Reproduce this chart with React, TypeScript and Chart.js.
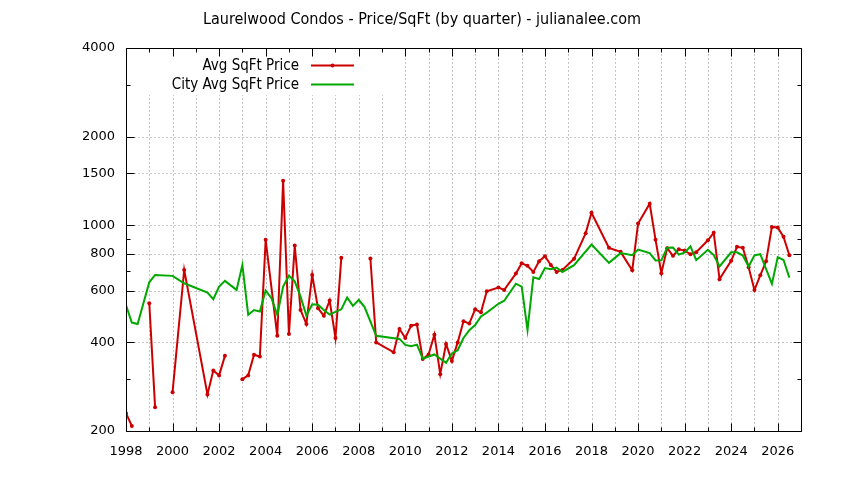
import React, { useEffect, useRef } from 'react';
import { Chart, registerables } from 'chart.js';

Chart.register(...registerables);

const TITLE = 'Laurelwood Condos - Price/SqFt (by quarter) - julianalee.com';
const LEGEND_LABELS = ['Avg SqFt Price', 'City Avg SqFt Price'];

const X_TICKS = [1998, 1999, 2000, 2001, 2002, 2003, 2004, 2005, 2006, 2007, 2008, 2009, 2010, 2011, 2012, 2013, 2014, 2015, 2016, 2017, 2018, 2019, 2020, 2021, 2022, 2023, 2024, 2025, 2026, 2027];
const X_LABELS = [1998, 2000, 2002, 2004, 2006, 2008, 2010, 2012, 2014, 2016, 2018, 2020, 2022, 2024, 2026];
const Y_TICKS = [200, 300, 400, 600, 700, 800, 900, 1000, 1500, 2000, 3000, 4000];
const Y_LABELS = [200, 400, 600, 800, 1000, 1500, 2000, 4000];

const AVG_QUARTERS = [1998.0, 1998.25, 1998.5, 1999.0, 1999.25, 1999.5, 2000.0, 2000.5, 2001.5, 2001.75, 2002.0, 2002.25, 2002.5, 2003.0, 2003.25, 2003.5, 2003.75, 2004.0, 2004.5, 2004.75, 2005.0, 2005.25, 2005.5, 2005.75, 2006.0, 2006.25, 2006.5, 2006.75, 2007.0, 2007.25, 2007.5, 2008.5, 2008.75, 2009.5, 2009.75, 2010.0, 2010.25, 2010.5, 2010.75, 2011.0, 2011.25, 2011.5, 2011.75, 2012.0, 2012.25, 2012.5, 2012.75, 2013.0, 2013.25, 2013.5, 2014.0, 2014.25, 2014.75, 2015.0, 2015.25, 2015.5, 2015.75, 2016.0, 2016.25, 2016.5, 2016.75, 2017.25, 2017.75, 2018.0, 2018.75, 2019.25, 2019.75, 2020.0, 2020.5, 2020.75, 2021.0, 2021.25, 2021.5, 2021.75, 2022.0, 2022.25, 2022.5, 2023.0, 2023.25, 2023.5, 2024.0, 2024.25, 2024.5, 2024.75, 2025.0, 2025.25, 2025.5, 2025.75, 2026.0, 2026.25, 2026.5];
const AVG_PRICE = [230, 208, null, 543, 241, null, 271, 705, 266, 321, 309, 360, null, 300, 309, 363, 358, 892, 421, 1415, 427, 853, 515, 462, 678, 522, 493, 555, 414, 775, null, 771, 400, 370, 444, 414, 456, 460, 351, 364, 425, 312, 395, 346, 400, 472, 464, 518, 506, 597, 614, 603, 685, 743, 728, 694, 755, 785, 733, 694, 705, 769, 940, 1102, 838, 812, 703, 1013, 1183, 893, 687, 836, 787, 828, 820, 797, 810, 889, 943, 656, 757, 845, 838, 720, 602, 676, 754, 987, 982, 913, 791];

const CITY_QUARTERS = [1998.0, 1998.25, 1998.5, 1999.0, 1999.25, 2000.0, 2000.5, 2001.5, 2001.75, 2002.0, 2002.25, 2002.75, 2003.0, 2003.25, 2003.5, 2003.75, 2004.0, 2004.25, 2004.5, 2004.75, 2005.0, 2005.25, 2005.5, 2005.75, 2006.0, 2006.25, 2006.5, 2006.75, 2007.0, 2007.25, 2007.5, 2007.75, 2008.0, 2008.25, 2008.75, 2009.75, 2010.0, 2010.25, 2010.5, 2010.75, 2011.25, 2011.75, 2012.0, 2012.25, 2012.5, 2012.75, 2013.0, 2013.25, 2013.5, 2014.0, 2014.25, 2014.75, 2015.0, 2015.25, 2015.5, 2015.75, 2016.0, 2016.25, 2016.5, 2016.75, 2017.25, 2018.0, 2018.75, 2019.25, 2019.75, 2020.0, 2020.5, 2020.75, 2021.0, 2021.25, 2021.5, 2021.75, 2022.0, 2022.25, 2022.5, 2023.0, 2023.25, 2023.5, 2024.0, 2024.25, 2024.5, 2024.75, 2025.0, 2025.25, 2025.75, 2026.0, 2026.25, 2026.5];
const CITY_PRICE = [535, 467, 462, 640, 678, 673, 635, 590, 561, 619, 647, 603, 733, 496, 515, 509, 600, 565, 496, 619, 674, 645, 572, 493, 539, 537, 515, 497, 508, 518, 568, 532, 558, 527, 421, 411, 392, 388, 393, 352, 364, 341, 367, 376, 414, 440, 458, 490, 505, 541, 554, 633, 619, 441, 666, 657, 715, 709, 718, 694, 732, 860, 745, 804, 791, 827, 804, 759, 760, 839, 840, 795, 807, 848, 761, 825, 792, 725, 809, 809, 789, 724, 790, 797, 632, 779, 762, 664];

const RED = '#cc0000';
const GREEN = '#00a800';
const GRID = '#8c8c8c';
const TICK_FONT = 'DejaVu Sans';
const TEXT_FONT = 'DejaVu Sans Condensed';

function framePx(chart: any) {
  const xs = chart.scales.x;
  const ys = chart.scales.y;
  return {
    xs,
    ys,
    l: Math.round(xs.getPixelForValue(X_TICKS[0])) + 0.5,
    r: Math.round(xs.getPixelForValue(X_TICKS[X_TICKS.length - 1])) + 0.5,
    b: Math.round(ys.getPixelForValue(Y_TICKS[0])) + 0.5,
    t: Math.round(ys.getPixelForValue(Y_TICKS[Y_TICKS.length - 1])) + 0.5,
  };
}

const KEY_BOX = { x0: 128, x1: 392, y0: 50, y1: 95 };

const gnuPlugin = {
  id: 'gnuFrame',
  beforeDatasetsDraw(chart: any) {
    const { ctx } = chart;
    const { xs, ys, l, r, b, t } = framePx(chart);
    ctx.save();
    ctx.strokeStyle = GRID;
    ctx.lineWidth = 1;
    ctx.setLineDash([1, 3]);
    ctx.beginPath();
    X_TICKS.slice(1, -1).forEach((v) => {
      const px = Math.round(xs.getPixelForValue(v)) + 0.5;
      const top = px < KEY_BOX.x1 ? KEY_BOX.y1 : t;
      ctx.moveTo(px, b);
      ctx.lineTo(px, top);
    });
    Y_LABELS.slice(1, -1).forEach((v) => {
      const py = Math.round(ys.getPixelForValue(v)) + 0.5;
      ctx.moveTo(l, py);
      ctx.lineTo(r, py);
    });
    ctx.stroke();
    ctx.restore();
  },
  afterDraw(chart: any) {
    const { ctx } = chart;
    const { xs, ys, l, r, b, t } = framePx(chart);
    ctx.save();
    ctx.strokeStyle = '#000';
    ctx.lineWidth = 1;
    ctx.setLineDash([]);
    ctx.beginPath();
    X_TICKS.forEach((v) => {
      const px = Math.round(xs.getPixelForValue(v)) + 0.5;
      const len = X_LABELS.includes(v) ? 8 : 4;
      ctx.moveTo(px, b); ctx.lineTo(px, b - len);
      ctx.moveTo(px, t); ctx.lineTo(px, t + len);
    });
    Y_TICKS.forEach((v) => {
      const py = Math.round(ys.getPixelForValue(v)) + 0.5;
      const len = Y_LABELS.includes(v) ? 8 : 4;
      ctx.moveTo(l, py); ctx.lineTo(l + len, py);
      ctx.moveTo(r, py); ctx.lineTo(r - len, py);
    });
    ctx.stroke();
    ctx.strokeRect(l, t, r - l, b - t);

    // legend (gnuplot style: text right-aligned, sample to the right)
    const datasets = chart.data.datasets;
    const textRight = 299;
    const sx0 = 311;
    const sx1 = 354;
    const rowY = [65.5, 84.5];
    ctx.font = `15px "${TEXT_FONT}"`;
    ctx.textAlign = 'right';
    ctx.textBaseline = 'middle';
    LEGEND_LABELS.forEach((label, i) => {
      const y = rowY[i];
      ctx.fillStyle = '#000';
      ctx.fillText(label, textRight, y + 1);
      const ds = datasets[i];
      ctx.strokeStyle = ds.borderColor;
      ctx.lineWidth = ds.borderWidth;
      ctx.beginPath();
      ctx.moveTo(sx0, y);
      ctx.lineTo(sx1, y);
      ctx.stroke();
      if (ds.pointRadius > 0) {
        ctx.fillStyle = ds.borderColor;
        ctx.beginPath();
        ctx.arc((sx0 + sx1) / 2, y, ds.pointRadius, 0, Math.PI * 2);
        ctx.fill();
      }
    });
    ctx.restore();
  },
};

export default function App() {
  const canvasRef = useRef<HTMLCanvasElement | null>(null);

  useEffect(() => {
    document.body.style.margin = '0';
    const canvas = canvasRef.current;
    if (!canvas) return;
    const chart = new Chart(canvas, {
      type: 'line',
      data: {
        datasets: [
          {
            label: LEGEND_LABELS[0],
            data: AVG_QUARTERS.map((q, i) => ({ x: q, y: AVG_PRICE[i] })),
            borderColor: RED,
            backgroundColor: RED,
            borderWidth: 2,
            pointRadius: 2,
            pointHoverRadius: 2,
            pointBorderWidth: 0,
            pointBackgroundColor: RED,
            tension: 0,
            spanGaps: false,
            order: 2,
            yAxisID: 'y',
          },
          {
            label: LEGEND_LABELS[1],
            data: CITY_QUARTERS.map((q, i) => ({ x: q, y: CITY_PRICE[i] })),
            borderColor: GREEN,
            backgroundColor: GREEN,
            borderWidth: 2,
            pointRadius: 0,
            pointHoverRadius: 0,
            tension: 0,
            spanGaps: false,
            order: 1,
            yAxisID: 'y',
          },
        ] as any,
      },
      options: {
        animation: false,
        responsive: false,
        devicePixelRatio: 1,
        layout: { padding: 0 },
        plugins: {
          legend: { display: false },
          tooltip: { enabled: false },
          title: {
            display: true,
            text: TITLE,
            color: '#000',
            font: { family: TEXT_FONT, size: 16, weight: 'normal', lineHeight: 1.2 },
            padding: { top: 10, bottom: 18.8 },
          },
        },
        scales: {
          x: {
            type: 'linear',
            min: X_TICKS[0],
            max: X_TICKS[X_TICKS.length - 1],
            afterBuildTicks: (scale: any) => {
              scale.ticks = X_TICKS.map((v) => ({ value: v }));
            },
            afterFit: (scale: any) => {
              scale.height = 49;
            },
            ticks: {
              autoSkip: false,
              maxRotation: 0,
              minRotation: 0,
              padding: 13,
              color: '#000',
              font: { family: TICK_FONT, size: 13 },
              callback: (v: any) => (X_LABELS.includes(Number(v)) ? String(v) : ''),
            },
            grid: { display: false, drawTicks: false },
            border: { display: false },
          },
          y: {
            type: 'logarithmic',
            position: 'left',
            min: Y_TICKS[0],
            max: Y_TICKS[Y_TICKS.length - 1],
            afterBuildTicks: (scale: any) => {
              scale.ticks = Y_TICKS.map((v) => ({ value: v }));
            },
            afterFit: (scale: any) => {
              scale.width = 126;
            },
            ticks: {
              autoSkip: false,
              padding: 11,
              color: '#000',
              font: { family: TICK_FONT, size: 13 },
              callback: (v: any) => (Y_LABELS.includes(Number(v)) ? String(v) : ''),
            },
            grid: { display: false, drawTicks: false },
            border: { display: false },
          },
          yRight: {
            type: 'linear',
            position: 'right',
            display: true,
            afterFit: (scale: any) => {
              scale.width = 43;
            },
            ticks: { display: false },
            grid: { display: false, drawTicks: false },
            border: { display: false },
          },
        },
      },
      plugins: [gnuPlugin],
    });
    return () => chart.destroy();
  }, []);

  return (
    <div style={{ width: 844, height: 480, background: '#fff' }}>
      <canvas ref={canvasRef} width={844} height={480} />
    </div>
  );
}
